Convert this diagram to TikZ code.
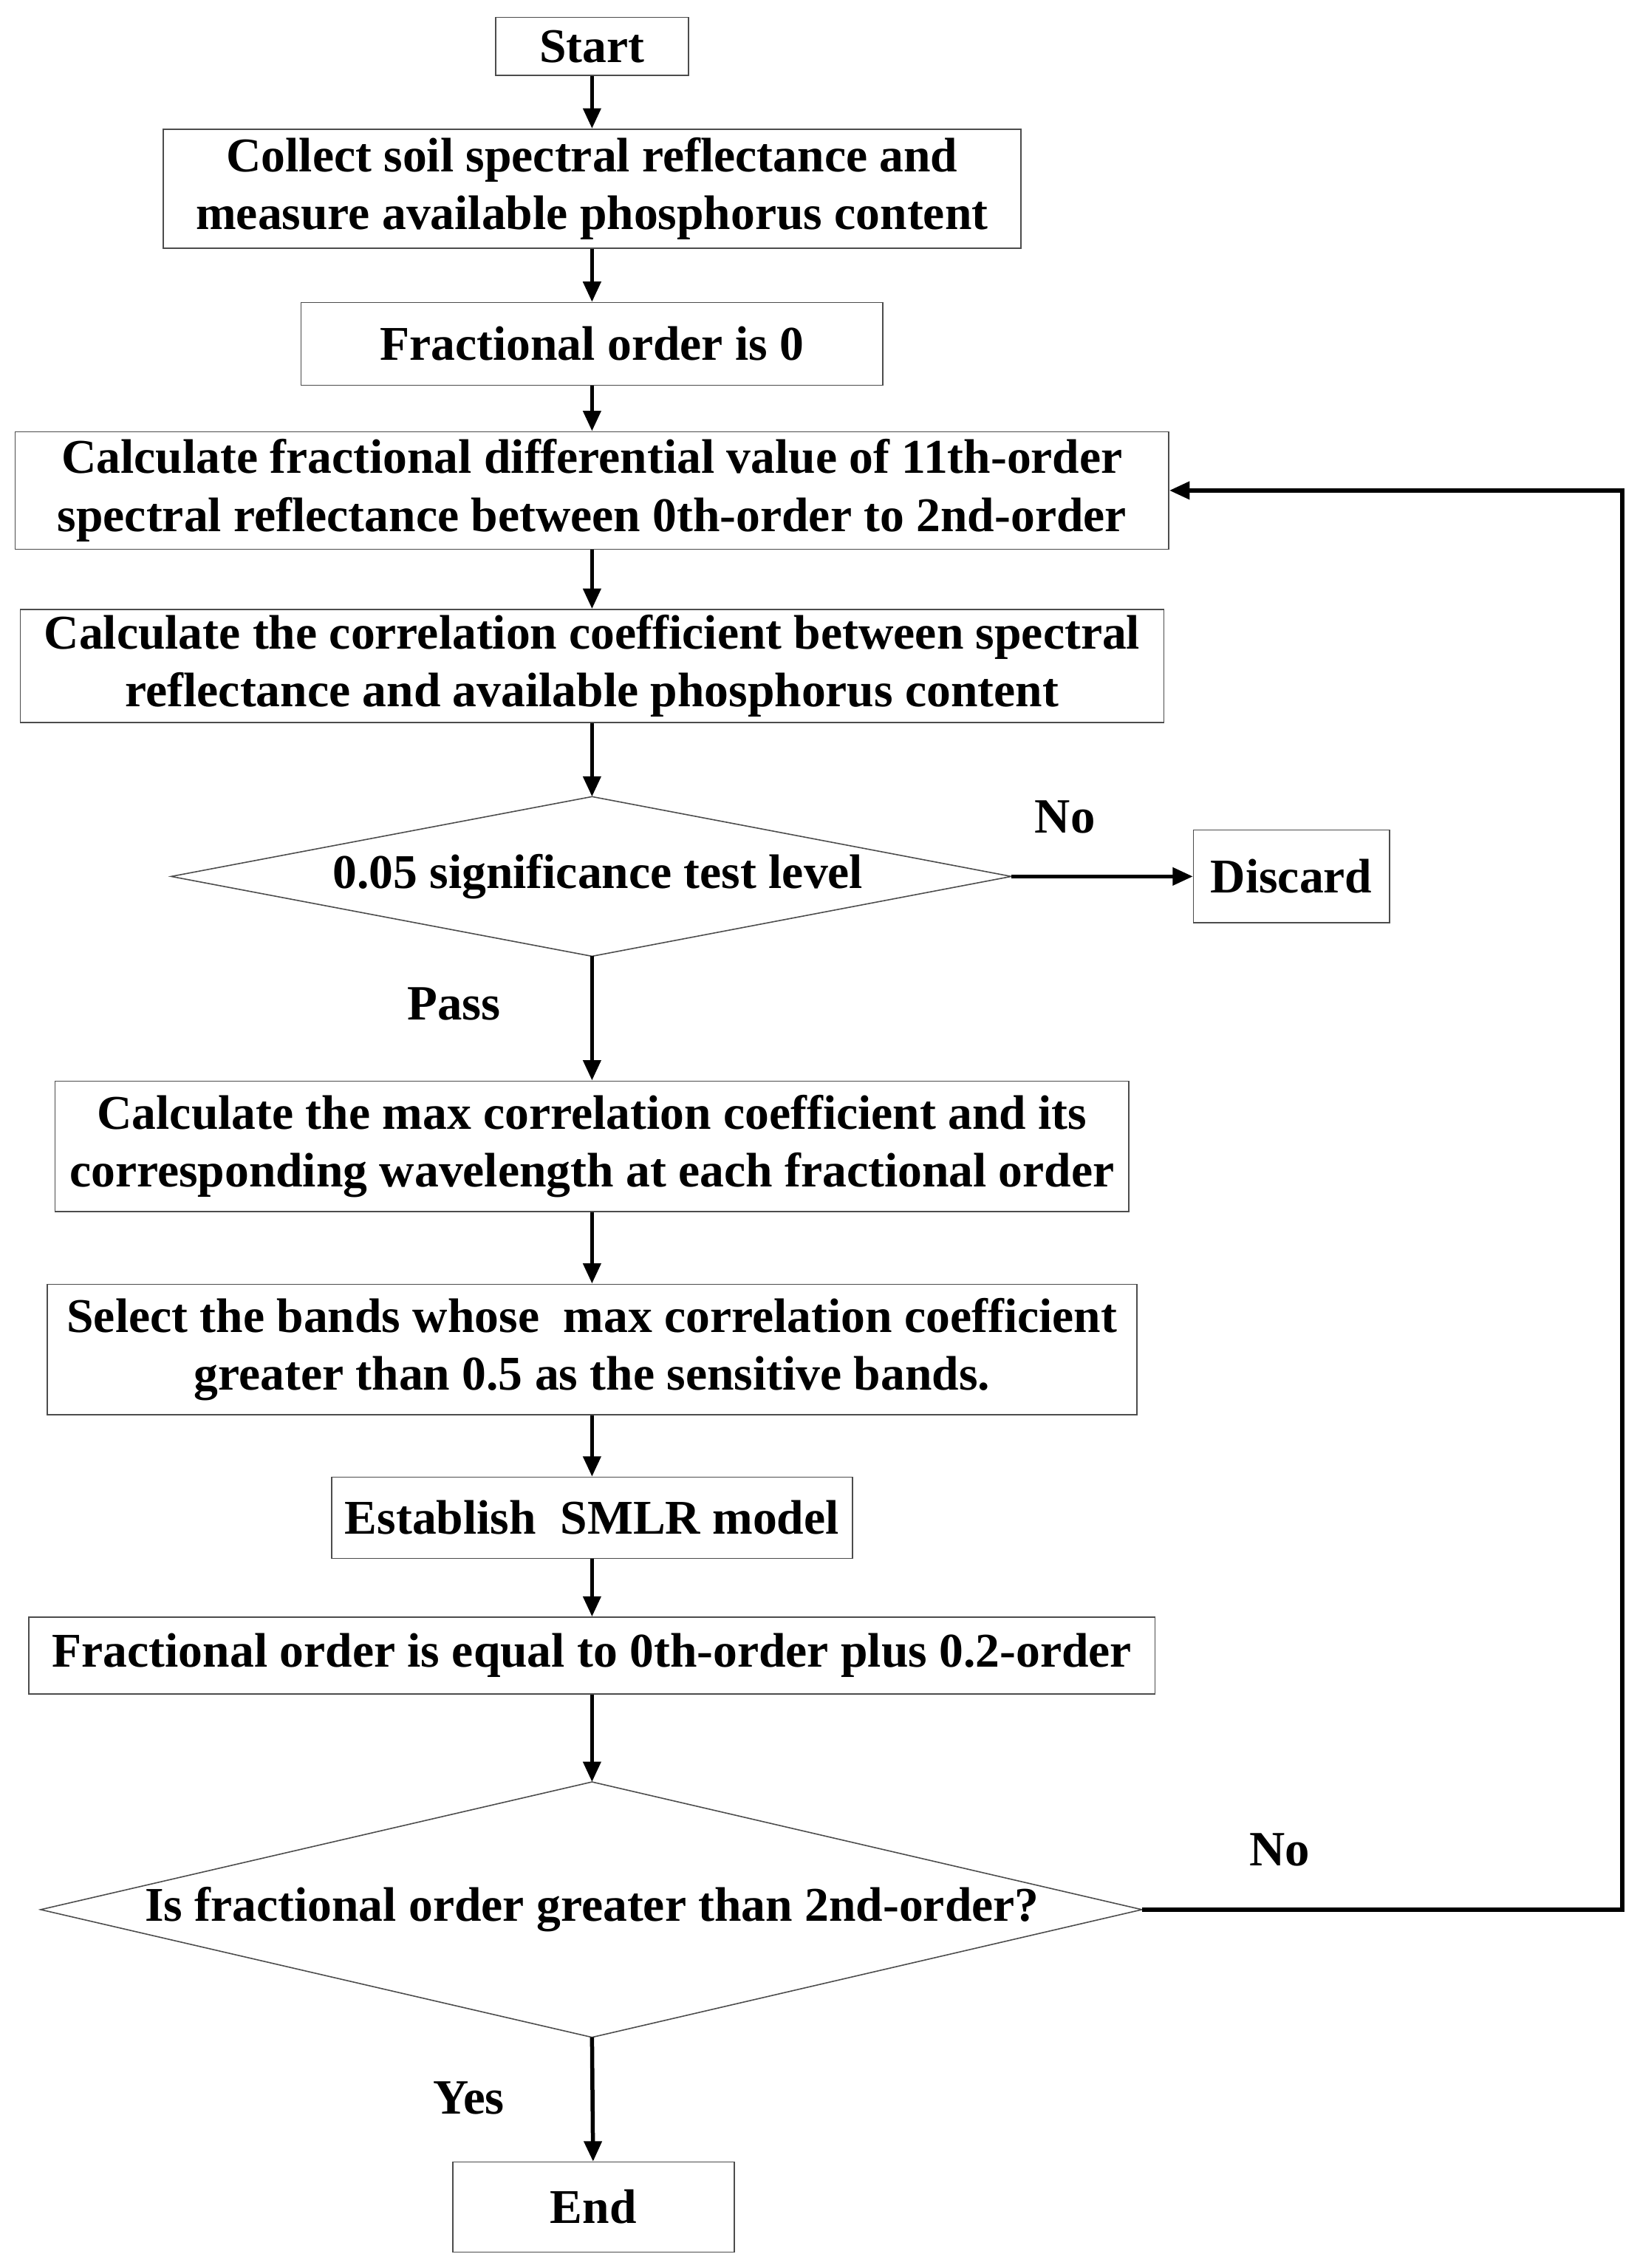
\documentclass[tikz,border=0pt]{standalone}
\usepackage{fontspec}
\setmainfont{Liberation Serif}
\usetikzlibrary{shapes.geometric,arrows.meta}
\begin{document}
\begin{tikzpicture}[x=1pt,y=-1pt,
  box/.style={draw=black!70,line width=0.8pt,inner sep=0pt,align=center,font=\fontsize{33.4}{40}\selectfont\bfseries},
  arr/.style={line width=2.8pt,-{Triangle[length=14pt,width=12pt]}},
  lab/.style={font=\fontsize{34}{38}\selectfont\bfseries}]
\useasboundingbox (0,0) rectangle (1130,1563);
\node[box,minimum width=133,minimum height=40] (start) at (408,32) {Start};
\node[box,minimum width=591,minimum height=82] (collect) at (408,130) {Collect soil spectral reflectance and\\measure available phosphorus content};
\node[box,minimum width=401,minimum height=57] (zero) at (408,237) {Fractional order is 0};
\node[box,minimum width=795,minimum height=81] (calc) at (408,338) {Calculate fractional differential value of 11th-order\\spectral reflectance between 0th-order to 2nd-order};
\node[box,minimum width=788,minimum height=78] (corr) at (408,459) {Calculate the correlation coefficient between spectral\\reflectance and available phosphorus content};
\draw[draw=black!70,line width=0.8pt] (118,604) -- (408,549) -- (697,604) -- (408,659) -- cycle;
\node[font=\fontsize{33.4}{40}\selectfont\bfseries] (sig) at (412,604) {0.05 significance test level};
\coordinate (d1top) at (408,549); \coordinate (d1right) at (697,604); \coordinate (d1bot) at (408,659);
\node[box,minimum width=135,minimum height=64] (discard) at (890,604) {Discard};
\node[box,minimum width=740,minimum height=90] (max) at (408,790) {Calculate the max correlation coefficient and its\\corresponding wavelength at each fractional order};
\node[box,minimum width=751,minimum height=90] (sel) at (408,930) {Select the bands whose\ \ max correlation coefficient\\greater than 0.5 as the sensitive bands.};
\node[box,minimum width=359,minimum height=56] (smlr) at (408,1046) {Establish\ \ SMLR model};
\node[box,minimum width=776,minimum height=53] (plus) at (408,1141) {Fractional order is equal to 0th-order plus 0.2-order};
\draw[draw=black!70,line width=0.8pt] (28,1316) -- (408,1228) -- (787,1316) -- (408,1404) -- cycle;
\node[font=\fontsize{33.4}{40}\selectfont\bfseries] (q) at (408,1316) {Is fractional order greater than 2nd-order?};
\coordinate (d2top) at (408,1228); \coordinate (d2right) at (787,1316); \coordinate (d2bot) at (408,1404);
\node[box,minimum width=194,minimum height=62] (end) at (409,1521) {End};
\draw[arr] (start) -- (collect);
\draw[arr] (collect) -- (zero);
\draw[arr] (zero) -- (calc);
\draw[arr] (calc) -- (corr);
\draw[arr] (corr) -- (d1top);
\draw[arr] (d1right) -- (discard);
\draw[arr] (d1bot) -- (max);
\draw[arr] (max) -- (sel);
\draw[arr] (sel) -- (smlr);
\draw[arr] (smlr) -- (plus);
\draw[arr] (plus) -- (d2top);
\draw[arr] (d2bot) -- (end);
\coordinate (c1) at (1118,1316); \coordinate (c2) at (1118,338);
\draw[arr] (d2right) -- (c1) -- (c2) -- (calc.east);
\node[lab] (no1) at (734,563) {No};
\node[lab] (pass) at (313,692) {Pass};
\node[lab] (no2) at (882,1275) {No};
\node[lab] (yes) at (323,1446) {Yes};
\end{tikzpicture}
\end{document}
